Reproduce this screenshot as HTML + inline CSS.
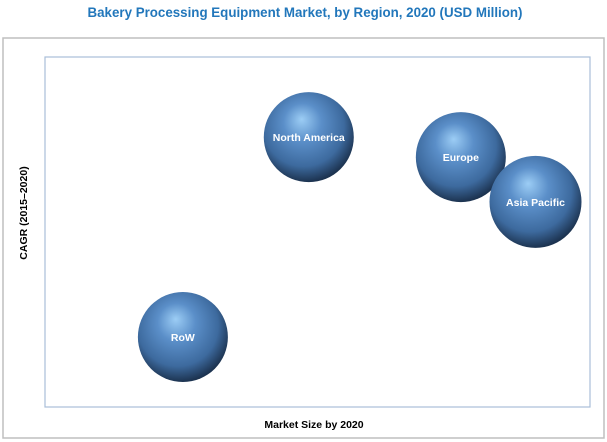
<!DOCTYPE html>
<html><head><meta charset="utf-8"><style>
body{margin:0;background:#fff;}
svg{display:block;font-family:"Liberation Sans",sans-serif;}
</style></head><body>
<svg width="607" height="442" viewBox="0 0 607 442">
<defs>
<radialGradient id="ball" cx="0.45" cy="0.4" r="0.6" fx="0.42" fy="0.3">
<stop offset="0" stop-color="#9ccdf5"/>
<stop offset="0.35" stop-color="#5b8fc9"/>
<stop offset="0.75" stop-color="#3d6a9e"/>
<stop offset="1" stop-color="#1c3350"/>
</radialGradient>
</defs>
<text x="305" y="17" text-anchor="middle" font-size="14" font-weight="bold" fill="#2277bb" textLength="435" lengthAdjust="spacingAndGlyphs">Bakery Processing Equipment Market, by Region, 2020 (USD Million)</text>
<rect x="3" y="38" width="601" height="400" fill="#fff" stroke="#bfbfbf" stroke-width="1.5"/>
<rect x="45" y="57" width="545" height="350" fill="#fff" stroke="#a9bfd8" stroke-width="1.2"/>
<text x="314" y="428" text-anchor="middle" font-size="10.5" font-weight="bold" fill="#000">Market Size by 2020</text>
<text transform="translate(27,213) rotate(-90)" text-anchor="middle" font-size="10.5" font-weight="bold" fill="#000">CAGR (2015–2020)</text>
<g id="bubbles"></g>
</svg>
<script>
const regions = ["North America","Europe","Asia Pacific","RoW"];
const marketSize = [48.4, 76.3, 90.0, 25.3];
const cagr = [77.1, 71.4, 58.6, 20.0];
const bubbleSize = [45, 45, 46, 45];
const X0=45,X1=590,Y0=407,Y1=57;
function xs(v){return X0+(X1-X0)*v/100;}
function ys(v){return Y0-(Y0-Y1)*v/100;}
const g=document.getElementById('bubbles');
const NS='http://www.w3.org/2000/svg';
regions.forEach((r,i)=>{
  const c=document.createElementNS(NS,'circle');
  c.setAttribute('cx',xs(marketSize[i]));
  c.setAttribute('cy',ys(cagr[i]));
  c.setAttribute('r',bubbleSize[i]);
  c.setAttribute('fill','url(#ball)');
  
  
  g.appendChild(c);
  const t=document.createElementNS(NS,'text');
  t.setAttribute('x',xs(marketSize[i]));
  t.setAttribute('y',ys(cagr[i])+4);
  t.setAttribute('text-anchor','middle');
  t.setAttribute('font-size','10.5');
  t.setAttribute('font-weight','bold');
  t.setAttribute('fill','#fff');
  t.textContent=r;
  
  
  g.appendChild(t);
});
</script>
</body></html>
